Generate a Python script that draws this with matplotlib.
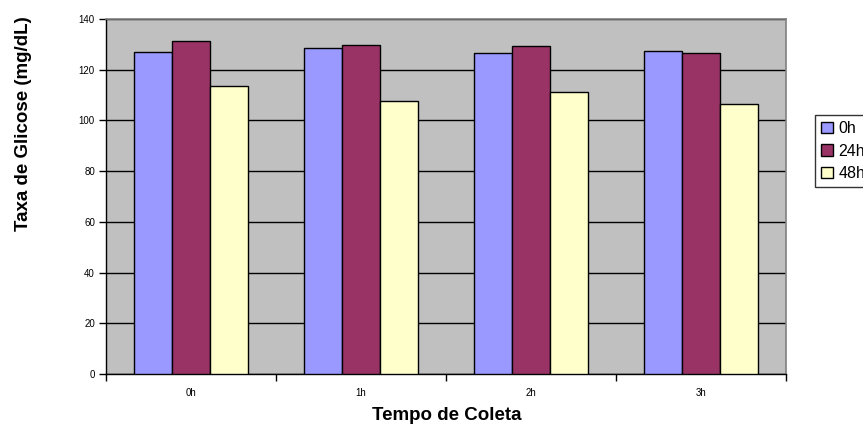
import matplotlib
matplotlib.use("Agg")
import matplotlib.pyplot as plt
import numpy as np

plt.rcParams['font.family'] = ['Liberation Sans', 'DejaVu Sans']

categories = ["0h", "1h", "2h", "3h"]
series_names = ["0h", "24h", "48h"]
values_0h = [126.8, 128.4, 126.6, 127.5]
values_24h = [131.4, 129.6, 129.5, 126.7]
values_48h = [113.4, 107.5, 111.2, 106.5]
y_ticks = [0, 20, 40, 60, 80, 100, 120, 140]

colors = ["#9999FF", "#993366", "#FFFFCC"]

W, H = 863, 426
fig = plt.figure(figsize=(W / 100, H / 100), dpi=100)
ax = fig.add_axes([106 / W, (H - 374) / H, 680 / W, 355 / H])
ax.set_facecolor("#C0C0C0")

x = np.arange(len(categories))
bw = 38 / 170
for i, (vals, name, col) in enumerate(zip([values_0h, values_24h, values_48h], series_names, colors)):
    ax.bar(x + (i - 1) * bw, vals, width=bw, color=col, edgecolor="black",
           linewidth=1.0, label=name, zorder=3)

ax.set_xlim(-0.5, len(categories) - 0.5)
ax.set_ylim(0, 140)
ax.set_yticks(y_ticks)
ax.set_yticklabels([str(t) for t in y_ticks], fontsize=7)
ax.yaxis.grid(True, color="black", linewidth=1.0, zorder=1)
ax.set_axisbelow(True)

# category boundaries carry the tick marks, centers carry the labels
ax.set_xticks(np.arange(-0.5, len(categories), 1.0))
ax.set_xticklabels([])
ax.set_xticks(x, minor=True)
ax.set_xticklabels(categories, minor=True, fontsize=7)
ax.tick_params(axis="x", which="major", length=5, direction="out", width=1)
ax.tick_params(axis="x", which="minor", length=0, pad=10)
ax.tick_params(axis="y", length=5, direction="out", width=1, pad=3)

for s in ["top", "right"]:
    ax.spines[s].set_color("#808080")
    ax.spines[s].set_linewidth(1.2)
for s in ["left", "bottom"]:
    ax.spines[s].set_color("black")
    ax.spines[s].set_linewidth(1.0)

fig.text(24 / W, 1 - 124 / H, "Taxa de Glicose (mg/dL)", rotation=90,
         ha="center", va="center", fontsize=13.5, fontweight="bold")
fig.text(447 / W, 1 - 415 / H, "Tempo de Coleta", ha="center", va="center",
         fontsize=13.5, fontweight="bold")

leg = fig.legend(loc="upper left", bbox_to_anchor=(815 / W, 1 - 115 / H),
                 bbox_transform=fig.transFigure, borderaxespad=0,
                 fontsize=11.5, frameon=True, fancybox=False,
                 handlelength=0.7, handleheight=0.7, handletextpad=0.35,
                 labelspacing=0.45, borderpad=0.4)
leg.get_frame().set_edgecolor("black")
leg.get_frame().set_linewidth(1.0)

fig.savefig("out.png", dpi=100)
